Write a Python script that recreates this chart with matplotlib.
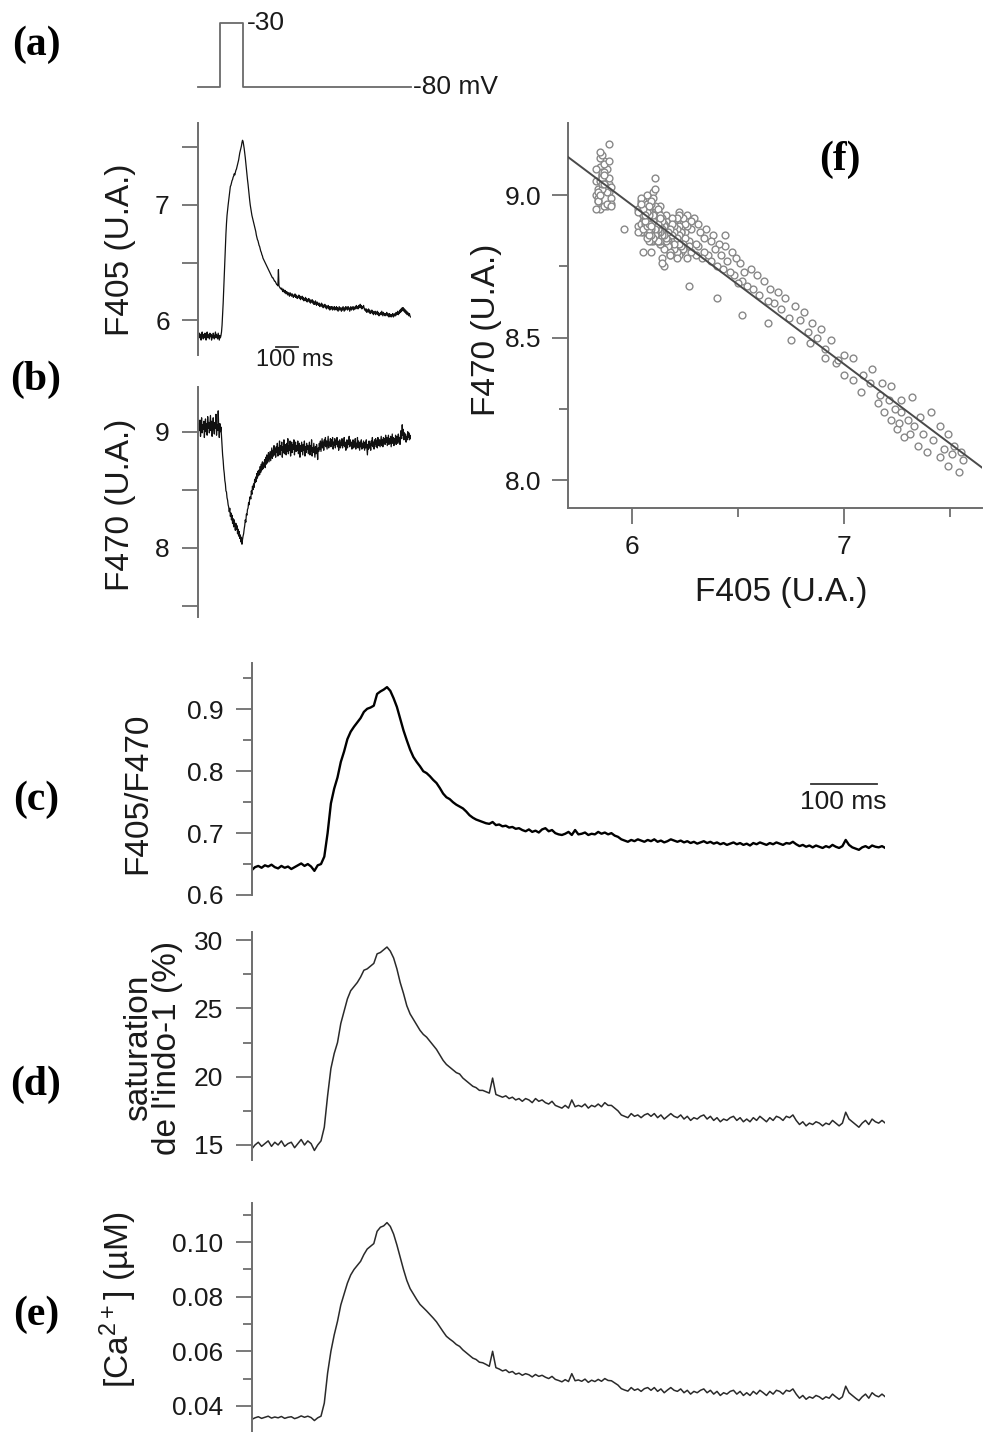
import numpy as np
import matplotlib
matplotlib.use("Agg")
import matplotlib.pyplot as plt
from matplotlib.ticker import FixedLocator, FormatStrFormatter

plt.rcParams['font.family'] = ['Liberation Sans', 'DejaVu Sans']
plt.rcParams['mathtext.default'] = 'regular'

# time bases (ms): raw fluorescence every 2.5 ms, derived traces every 5 ms
t_raw = np.arange(0, 960.1, 2.5)
t_ms = np.arange(0, 961, 5)

# voltage protocol (a)
protocol_t = [0, 100, 100, 200, 200, 960]
protocol_mv = [-80, -80, -30, -30, -80, -80]

# (b) fluorescence at 405 nm
f405 = [
    5.84, 5.86, 5.89, 5.85, 5.88, 5.83, 5.87, 5.90, 5.86, 5.84,
    5.88, 5.85, 5.89, 5.87, 5.83, 5.86, 5.90, 5.85, 5.88, 5.86,
    5.84, 5.89, 5.86, 5.88, 5.83, 5.87, 5.85, 5.89, 5.86, 5.84,
    5.87, 5.90, 5.85, 5.88, 5.86, 5.84, 5.89, 5.86, 5.83, 5.87,
    5.85, 5.87, 5.90, 5.96, 6.05, 6.15, 6.27, 6.40, 6.52, 6.64,
    6.75, 6.84, 6.91, 6.96, 7.00, 7.04, 7.08, 7.12, 7.16, 7.17,
    7.19, 7.21, 7.22, 7.24, 7.25, 7.27, 7.26, 7.28, 7.30, 7.31,
    7.33, 7.35, 7.37, 7.39, 7.42, 7.45, 7.47, 7.49, 7.51, 7.54,
    7.56, 7.55, 7.52, 7.49, 7.45, 7.41, 7.36, 7.32, 7.27, 7.22,
    7.18, 7.13, 7.09, 7.04, 7.00, 6.97, 6.94, 6.91, 6.89, 6.87,
    6.85, 6.83, 6.81, 6.79, 6.77, 6.74, 6.72, 6.70, 6.69, 6.67,
    6.65, 6.64, 6.62, 6.60, 6.59, 6.57, 6.56, 6.54, 6.53, 6.52,
    6.51, 6.50, 6.49, 6.48, 6.47, 6.46, 6.45, 6.44, 6.43, 6.42,
    6.41, 6.40, 6.39, 6.38, 6.37, 6.37, 6.36, 6.35, 6.34, 6.34,
    6.33, 6.32, 6.31, 6.31, 6.30, 6.44, 6.30, 6.29, 6.28, 6.28,
    6.27, 6.28, 6.26, 6.25, 6.27, 6.26, 6.24, 6.26, 6.25, 6.23,
    6.25, 6.24, 6.22, 6.24, 6.23, 6.21, 6.24, 6.22, 6.23, 6.21,
    6.23, 6.22, 6.20, 6.22, 6.21, 6.23, 6.20, 6.22, 6.21, 6.19,
    6.21, 6.20, 6.22, 6.19, 6.21, 6.18, 6.20, 6.19, 6.21, 6.18,
    6.20, 6.17, 6.19, 6.18, 6.20, 6.17, 6.19, 6.16, 6.18, 6.17,
    6.19, 6.16, 6.18, 6.15, 6.17, 6.16, 6.18, 6.15, 6.17, 6.14,
    6.16, 6.14, 6.17, 6.15, 6.13, 6.16, 6.14, 6.15, 6.13, 6.15,
    6.12, 6.14, 6.13, 6.15, 6.12, 6.14, 6.11, 6.13, 6.12, 6.14,
    6.11, 6.13, 6.10, 6.12, 6.11, 6.13, 6.10, 6.12, 6.09, 6.11,
    6.12, 6.10, 6.12, 6.09, 6.11, 6.10, 6.12, 6.09, 6.11, 6.10,
    6.12, 6.09, 6.11, 6.08, 6.10, 6.12, 6.09, 6.11, 6.10, 6.08,
    6.11, 6.09, 6.12, 6.10, 6.08, 6.11, 6.09, 6.12, 6.10, 6.11,
    6.09, 6.12, 6.10, 6.11, 6.08, 6.10, 6.12, 6.09, 6.11, 6.10,
    6.12, 6.09, 6.11, 6.10, 6.12, 6.10, 6.13, 6.11, 6.12, 6.10,
    6.13, 6.11, 6.12, 6.14, 6.11, 6.13, 6.10, 6.12, 6.11, 6.13,
    6.11, 6.09, 6.10, 6.08, 6.10, 6.07, 6.09, 6.08, 6.10, 6.07,
    6.09, 6.06, 6.08, 6.07, 6.09, 6.06, 6.08, 6.05, 6.07, 6.06,
    6.08, 6.05, 6.07, 6.06, 6.08, 6.05, 6.07, 6.04, 6.06, 6.05,
    6.07, 6.05, 6.08, 6.06, 6.04, 6.07, 6.05, 6.06, 6.04, 6.06,
    6.05, 6.07, 6.04, 6.06, 6.05, 6.03, 6.06, 6.04, 6.05, 6.03,
    6.05, 6.04, 6.06, 6.03, 6.05, 6.04, 6.06, 6.04, 6.07, 6.05,
    6.06, 6.08, 6.05, 6.07, 6.06, 6.09, 6.07, 6.10, 6.08, 6.11,
    6.09, 6.11, 6.08, 6.10, 6.07, 6.09, 6.06, 6.08, 6.05, 6.07,
    6.05, 6.04, 6.06, 6.04, 6.03,
]

# (b) fluorescence at 470 nm
f470 = [
    8.98, 9.07, 9.01, 9.10, 8.96, 9.05, 9.12, 8.99, 9.06, 9.02,
    9.09, 8.95, 9.04, 9.11, 9.00, 9.07, 8.97, 9.13, 9.03, 9.08,
    8.99, 9.06, 9.14, 9.01, 9.09, 8.96, 9.05, 9.12, 9.02, 8.98,
    9.08, 9.03, 9.15, 8.97, 9.06, 9.01, 9.18, 9.04, 8.95, 9.07,
    9.00, 9.04, 8.96, 8.88, 8.80, 8.75, 8.68, 8.64, 8.58, 8.55,
    8.49, 8.48, 8.43, 8.41, 8.37, 8.35, 8.31, 8.34, 8.27, 8.30,
    8.24, 8.28, 8.21, 8.25, 8.18, 8.24, 8.20, 8.15, 8.21, 8.16,
    8.19, 8.12, 8.16, 8.10, 8.14, 8.08, 8.11, 8.05, 8.09, 8.03,
    8.07, 8.10, 8.12, 8.16, 8.19, 8.24, 8.22, 8.29, 8.28, 8.33,
    8.34, 8.39, 8.37, 8.43, 8.44, 8.42, 8.49, 8.46, 8.53, 8.50,
    8.55, 8.52, 8.59, 8.56, 8.61, 8.57, 8.64, 8.60, 8.66, 8.62,
    8.67, 8.63, 8.70, 8.65, 8.72, 8.67, 8.74, 8.68, 8.73, 8.70,
    8.76, 8.69, 8.78, 8.72, 8.80, 8.73, 8.77, 8.82, 8.74, 8.79,
    8.83, 8.75, 8.81, 8.86, 8.77, 8.84, 8.79, 8.88, 8.80, 8.85,
    8.78, 8.87, 8.82, 8.90, 8.79, 8.86, 8.83, 8.92, 8.80, 8.88,
    8.84, 8.91, 8.78, 8.87, 8.82, 8.93, 8.81, 8.89, 8.85, 8.80,
    8.90, 8.83, 8.94, 8.81, 8.88, 8.84, 8.92, 8.79, 8.87, 8.91,
    8.82, 8.89, 8.85, 8.93, 8.80, 8.87, 8.91, 8.83, 8.88, 8.84,
    8.92, 8.81, 8.86, 8.90, 8.78, 8.88, 8.83, 8.91, 8.85, 8.80,
    8.89, 8.84, 8.92, 8.79, 8.87, 8.82, 8.90, 8.85, 8.88, 8.81,
    8.86, 8.91, 8.80, 8.88, 8.83, 8.93, 8.79, 8.86, 8.82, 8.90,
    8.84, 8.78, 8.87, 8.81, 8.89, 8.85, 8.76, 8.86, 8.83, 8.90,
    8.85, 8.92, 8.83, 8.89, 8.94, 8.86, 8.91, 8.84, 8.93, 8.88,
    8.95, 8.87, 8.92, 8.85, 8.90, 8.96, 8.86, 8.91, 8.88, 8.94,
    8.87, 8.93, 8.89, 8.95, 8.85, 8.91, 8.88, 8.94, 8.86, 8.92,
    8.89, 8.95, 8.87, 8.92, 8.84, 8.90, 8.93, 8.86, 8.91, 8.88,
    8.94, 8.86, 8.92, 8.88, 8.95, 8.87, 8.91, 8.84, 8.90, 8.93,
    8.86, 8.92, 8.89, 8.96, 8.87, 8.93, 8.88, 8.91, 8.85, 8.90,
    8.93, 8.86, 8.91, 8.87, 8.94, 8.85, 8.90, 8.88, 8.95, 8.86,
    8.92, 8.88, 8.84, 8.91, 8.87, 8.93, 8.85, 8.90, 8.86, 8.92,
    8.88, 8.84, 8.91, 8.86, 8.93, 8.87, 8.80, 8.89, 8.85, 8.92,
    8.86, 8.90, 8.84, 8.92, 8.88, 8.95, 8.87, 8.91, 8.85, 8.93,
    8.89, 8.94, 8.87, 8.92, 8.86, 8.95, 8.90, 8.88, 8.93, 8.87,
    8.92, 8.96, 8.88, 8.93, 8.87, 8.95, 8.90, 8.94, 8.89, 8.97,
    8.91, 8.95, 8.88, 8.93, 8.97, 8.89, 8.94, 8.90, 8.96, 8.87,
    8.93, 8.98, 8.90, 8.95, 8.88, 8.94, 8.91, 8.97, 8.89, 8.93,
    8.96, 8.90, 8.98, 8.92, 8.95, 8.89, 8.97, 9.01, 8.94, 9.06,
    8.97, 9.02, 8.93, 8.99, 8.94, 8.98, 8.91, 8.96, 8.93, 9.00,
    8.95, 8.99, 8.93, 8.97, 8.94,
]

# (c) ratio F405/F470
ratio = [
    0.640, 0.645, 0.647, 0.644, 0.648, 0.646, 0.649, 0.645, 0.643, 0.647,
    0.644, 0.646, 0.642, 0.645, 0.648, 0.651, 0.647, 0.650, 0.646, 0.639,
    0.648, 0.650, 0.662, 0.700, 0.748, 0.772, 0.790, 0.815, 0.832, 0.852,
    0.864, 0.872, 0.879, 0.886, 0.896, 0.901, 0.903, 0.906, 0.925, 0.929,
    0.932, 0.936, 0.930, 0.918, 0.904, 0.885, 0.866, 0.850, 0.835, 0.823,
    0.815, 0.808, 0.800, 0.797, 0.792, 0.786, 0.781, 0.773, 0.764, 0.758,
    0.755, 0.750, 0.746, 0.743, 0.740, 0.735, 0.729, 0.725, 0.722, 0.720,
    0.718, 0.716, 0.715, 0.718, 0.713, 0.714, 0.711, 0.712, 0.709, 0.710,
    0.707, 0.708, 0.705, 0.703, 0.706, 0.702, 0.704, 0.701, 0.706, 0.708,
    0.703, 0.705, 0.700, 0.698, 0.697, 0.699, 0.702, 0.697, 0.705, 0.698,
    0.699, 0.701, 0.697, 0.699, 0.698, 0.702, 0.699, 0.701, 0.698, 0.700,
    0.696, 0.694, 0.690, 0.688, 0.686, 0.689, 0.687, 0.690, 0.688, 0.686,
    0.689, 0.687, 0.690, 0.686, 0.688, 0.685, 0.687, 0.690, 0.688, 0.686,
    0.688, 0.685, 0.687, 0.684, 0.686, 0.683, 0.685, 0.687, 0.684, 0.686,
    0.683, 0.685, 0.682, 0.684, 0.681, 0.683, 0.685, 0.682, 0.684, 0.681,
    0.683, 0.680, 0.684, 0.682, 0.685, 0.683, 0.681, 0.684, 0.682, 0.685,
    0.683, 0.681, 0.684, 0.683, 0.686, 0.682, 0.679, 0.681, 0.678, 0.680,
    0.677, 0.680, 0.678, 0.676, 0.679, 0.677, 0.681, 0.678, 0.676, 0.679,
    0.689, 0.681, 0.677, 0.675, 0.673, 0.677, 0.679, 0.676, 0.680, 0.678,
    0.677, 0.679, 0.676,
]

# (d) indo-1 saturation (%)
saturation = [
    14.7, 15.0, 15.2, 14.9, 15.1, 15.3, 14.9, 15.2, 15.0, 15.3,
    14.9, 15.1, 15.2, 14.8, 15.1, 15.4, 15.0, 15.3, 15.1, 14.6,
    15.0, 15.3, 16.3, 18.6, 20.6, 21.7, 22.5, 23.9, 24.8, 25.7,
    26.3, 26.6, 26.9, 27.3, 27.8, 27.9, 28.1, 28.3, 29.0, 29.1,
    29.3, 29.5, 29.2, 28.7, 27.9, 26.9, 26.1, 25.2, 24.6, 24.2,
    23.8, 23.4, 23.1, 22.9, 22.6, 22.3, 22.0, 21.6, 21.2, 20.9,
    20.7, 20.5, 20.3, 20.2, 19.9, 19.7, 19.5, 19.3, 19.2, 19.0,
    19.0, 18.9, 18.8, 19.9, 18.7, 18.6, 18.5, 18.6, 18.4, 18.5,
    18.3, 18.4, 18.2, 18.4, 18.3, 18.1, 18.4, 18.2, 18.3, 18.1,
    18.0, 18.2, 17.9, 17.8, 17.7, 17.9, 17.7, 18.3, 17.8, 17.9,
    17.8, 18.0, 17.7, 17.9, 17.8, 18.0, 17.8, 18.1, 17.9, 17.9,
    17.7, 17.5, 17.2, 17.1, 17.0, 17.3, 17.1, 17.2, 17.0, 17.2,
    17.3, 17.1, 17.3, 17.0, 17.2, 16.9, 17.1, 17.3, 17.1, 17.0,
    17.2, 16.9, 17.1, 16.8, 17.0, 16.9, 17.1, 17.2, 16.9, 17.1,
    16.8, 17.0, 16.7, 16.9, 16.8, 17.0, 17.1, 16.8, 17.0, 16.7,
    16.9, 16.7, 17.0, 16.8, 17.1, 16.9, 16.7, 17.0, 16.8, 17.1,
    17.0, 16.8, 17.1, 17.0, 17.2, 16.8, 16.5, 16.7, 16.4, 16.6,
    16.5, 16.7, 16.6, 16.4, 16.6, 16.5, 16.8, 16.6, 16.4, 16.6,
    17.4, 16.9, 16.7, 16.5, 16.3, 16.6, 16.8, 16.5, 16.9, 16.7,
    16.6, 16.8, 16.6,
]

# (e) free calcium (uM)
calcium = [
    0.0350, 0.0356, 0.0360, 0.0354, 0.0358, 0.0362, 0.0355, 0.0359, 0.0356, 0.0361,
    0.0354, 0.0358, 0.0360, 0.0353, 0.0357, 0.0363, 0.0358, 0.0362, 0.0357, 0.0346,
    0.0356, 0.0362, 0.0410, 0.0520, 0.0600, 0.0660, 0.0710, 0.0770, 0.0810, 0.0850,
    0.0880, 0.0900, 0.0915, 0.0930, 0.0955, 0.0975, 0.0985, 0.0995, 0.1040, 0.1055,
    0.1060, 0.1072, 0.1058, 0.1030, 0.0990, 0.0945, 0.0900, 0.0860, 0.0830, 0.0810,
    0.0790, 0.0772, 0.0760, 0.0748, 0.0735, 0.0722, 0.0708, 0.0690, 0.0672, 0.0655,
    0.0645, 0.0636, 0.0625, 0.0618, 0.0605, 0.0595, 0.0585, 0.0575, 0.0570, 0.0560,
    0.0558, 0.0552, 0.0545, 0.0600, 0.0540, 0.0535, 0.0528, 0.0532, 0.0522, 0.0526,
    0.0516, 0.0520, 0.0512, 0.0518, 0.0514, 0.0506, 0.0515, 0.0508, 0.0512, 0.0505,
    0.0500, 0.0508, 0.0497, 0.0493, 0.0488, 0.0496, 0.0489, 0.0518, 0.0492, 0.0495,
    0.0490, 0.0498, 0.0486, 0.0494, 0.0489, 0.0497, 0.0490, 0.0500, 0.0493, 0.0492,
    0.0484, 0.0476, 0.0463, 0.0458, 0.0454, 0.0467, 0.0457, 0.0462, 0.0453, 0.0463,
    0.0467, 0.0457, 0.0467, 0.0453, 0.0462, 0.0448, 0.0458, 0.0467, 0.0457, 0.0453,
    0.0462, 0.0448, 0.0457, 0.0443, 0.0453, 0.0448, 0.0457, 0.0462, 0.0448, 0.0457,
    0.0443, 0.0453, 0.0438, 0.0448, 0.0443, 0.0453, 0.0457, 0.0443, 0.0453, 0.0438,
    0.0448, 0.0438, 0.0453, 0.0443, 0.0457, 0.0448, 0.0438, 0.0453, 0.0443, 0.0457,
    0.0453, 0.0443, 0.0457, 0.0453, 0.0462, 0.0443, 0.0428, 0.0438, 0.0424, 0.0433,
    0.0428, 0.0438, 0.0433, 0.0424, 0.0433, 0.0428, 0.0443, 0.0433, 0.0424, 0.0433,
    0.0472, 0.0448, 0.0438, 0.0428, 0.0419, 0.0433, 0.0443, 0.0428, 0.0448, 0.0438,
    0.0433, 0.0443, 0.0433,
]

W, H = 986, 1432
fig = plt.figure(figsize=(W / 100, H / 100), dpi=100)

SPINE = '#6e6e6e'
TXT = '#1a1a1a'


def px_axes(x0, y0, x1, y1):
    return fig.add_axes([x0 / W, 1 - y1 / H, (x1 - x0) / W, (y1 - y0) / H])


def ftext(x, y, s, **kw):
    kw.setdefault('color', TXT)
    return fig.text(x / W, 1 - y / H, s, ha='center', va='center', **kw)


def trace_axes(ax, major, minor, ylim, xlim=(0, 960), minor_len=6.5):
    for side in ['top', 'right', 'bottom']:
        ax.spines[side].set_visible(False)
    ax.spines['left'].set_color(SPINE)
    ax.spines['left'].set_linewidth(1.4)
    ax.set_xlim(*xlim)
    ax.set_ylim(*ylim)
    ax.set_xticks([])
    ax.yaxis.set_major_locator(FixedLocator(major))
    ax.yaxis.set_minor_locator(FixedLocator(minor))
    ax.tick_params(axis='y', which='major', length=11.5, width=1.3, color=SPINE,
                   labelsize=19, labelcolor=TXT, pad=9)
    ax.tick_params(axis='y', which='minor', length=minor_len, width=1.3, color=SPINE)
    ax.patch.set_alpha(0)


# (a) voltage protocol
ax_a = px_axes(198.3, 22.7, 410.5, 87.3)
ax_a.plot(protocol_t, protocol_mv, color='#6a6a6a', lw=1.3, clip_on=False)
ax_a.set_xlim(0, 960)
ax_a.set_ylim(-80, -30)
ax_a.axis('off')
ax_a.text(220, -30, '-30', fontsize=19, ha='left', va='center', color=TXT)
ax_a.text(973, -80, '-80 mV', fontsize=19, ha='left', va='center', color=TXT)

# (b) F405
ax_b1 = px_axes(198.3, 123.3, 410.5, 355)
ax_b1.plot(t_raw, f405, color='#111111', lw=0.9)
trace_axes(ax_b1, [6, 7], [6.5, 7.5], (5.701, 7.707), minor_len=11.5)
ax_b1.plot([350, 450], [5.768, 5.768], color='#333333', lw=1.3)
ax_b1.text(262, 5.655, '100 ms', fontsize=17, ha='left', va='center',
           color=TXT, clip_on=False)

# (b) F470
ax_b2 = px_axes(198.3, 386.7, 410.5, 616.7)
ax_b2.plot(t_raw, f470, color='#111111', lw=0.9)
trace_axes(ax_b2, [8, 9], [7.5, 8.5], (7.405, 9.388), minor_len=11.5)

# (c) ratio
ax_c = px_axes(251.7, 663, 885.3, 895)
ax_c.plot(t_ms, ratio, color='black', lw=1.7)
trace_axes(ax_c, [0.6, 0.7, 0.8, 0.9], [0.65, 0.75, 0.85, 0.95], (0.6, 0.975))
ax_c.yaxis.set_major_formatter(FormatStrFormatter('%.1f'))
ax_c.plot([847, 947], [0.779, 0.779], color='#333333', lw=1.3)
ax_c.text(896, 0.751, '100 ms', fontsize=19, ha='center', va='center', color=TXT)

# (d) saturation
ax_d = px_axes(251.7, 932, 885.3, 1160)
ax_d.plot(t_ms, saturation, color='#2a2a2a', lw=1.1)
trace_axes(ax_d, [15, 20, 25, 30], [17.5, 22.5, 27.5], (13.9, 30.6))

# (e) calcium
ax_e = px_axes(251.7, 1202.7, 885.3, 1432)
ax_e.plot(t_ms, calcium, color='#2a2a2a', lw=1.1)
trace_axes(ax_e, [0.04, 0.06, 0.08, 0.10], [0.05, 0.07, 0.09, 0.11], (0.0304, 0.1145))
ax_e.yaxis.set_major_formatter(FormatStrFormatter('%.2f'))

# (f) F470 vs F405 with linear fit
ax_f = px_axes(568, 123, 982, 508)
ax_f.scatter(f405, f470, s=24, facecolors='white', edgecolors='#888888',
             linewidths=1.0, zorder=2)
slope, icpt = np.polyfit(f405, f470, 1)
fx = np.array([5.698, 7.65])
ax_f.plot(fx, slope * fx + icpt, color='#4a4a4a', lw=1.4, zorder=3)
ax_f.set_xlim(5.698, 7.65)
ax_f.set_ylim(7.902, 9.253)
for side in ['top', 'right']:
    ax_f.spines[side].set_visible(False)
for side in ['left', 'bottom']:
    ax_f.spines[side].set_color(SPINE)
    ax_f.spines[side].set_linewidth(1.4)
ax_f.xaxis.set_major_locator(FixedLocator([6, 7]))
ax_f.xaxis.set_minor_locator(FixedLocator([6.5, 7.5]))
ax_f.yaxis.set_major_locator(FixedLocator([8.0, 8.5, 9.0]))
ax_f.yaxis.set_minor_locator(FixedLocator([8.25, 8.75]))
ax_f.yaxis.set_major_formatter(FormatStrFormatter('%.1f'))
ax_f.tick_params(which='major', length=11.5, width=1.3, color=SPINE,
                 labelsize=19, labelcolor=TXT, pad=8)
ax_f.tick_params(which='minor', length=6.5, width=1.3, color=SPINE)
ax_f.patch.set_alpha(0)

# axis titles
ftext(120, 250, 'F405 (U.A.)', fontsize=24, rotation=90)
ftext(120, 505, 'F470 (U.A.)', fontsize=24, rotation=90)
ftext(138, 793, 'F405/F470', fontsize=24, rotation=90)
ftext(153, 1048, "saturation\nde l'indo-1 (%)", fontsize=24, rotation=90,
      linespacing=0.95, multialignment='center')
ftext(118, 1300, r'[Ca$^{2+}$] (µM)', fontsize=24, rotation=90)
ftext(487, 330, 'F470 (U.A.)', fontsize=24, rotation=90)
ftext(781, 592, 'F405 (U.A.)', fontsize=24)

# panel letters
serif = dict(fontsize=30, fontweight='bold', family='Liberation Serif', color='black')
ftext(36, 45, '(a)', **serif)
ftext(36, 380, '(b)', **serif)
ftext(36, 800, '(c)', **serif)
ftext(36, 1085, '(d)', **serif)
ftext(36, 1315, '(e)', **serif)
ftext(840, 160, '(f)', **serif)

fig.savefig('out.png', dpi=100)
